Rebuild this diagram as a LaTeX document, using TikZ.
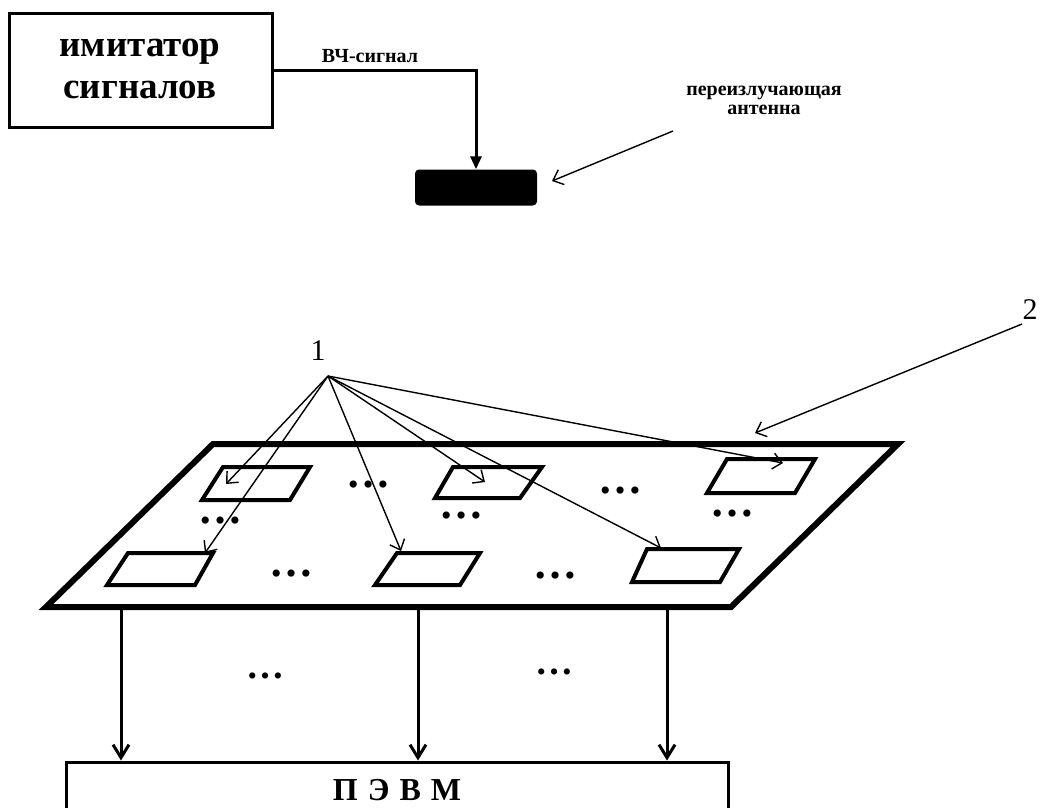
\documentclass[tikz,border=0pt]{standalone}
\usepackage{fontspec}
\setmainfont{Liberation Serif}
\usetikzlibrary{arrows.meta}
\begin{document}
\begin{tikzpicture}[x=1pt,y=-1pt,
  box/.style={draw,line width=3pt,inner sep=0pt},
  thinarrow/.style={line width=1.4pt,-{Straight Barb[length=9pt,width=16pt,line width=1.4pt]}},
  downarrow/.style={line width=3pt,-{Straight Barb[length=13pt,width=16pt,line width=3pt]}},
  feed/.style={line width=3pt,-{Triangle[length=13pt,width=11pt]}},
  plate/.style={line width=6pt,line join=miter},
  pad/.style={line width=4pt,line join=miter},
  dts/.style={font=\fontsize{44}{44}\selectfont\bfseries,inner sep=0pt},
  lbl/.style={font=\fontsize{20}{19}\selectfont\bfseries,inner sep=0pt,align=center},
  num/.style={font=\fontsize{30}{30}\selectfont,inner sep=0pt}]
\useasboundingbox (0,0) rectangle (1040,807);
% simulator
\node[box,minimum width=263pt,minimum height=114pt] (imit) at (140.5,70) {};
\node[align=center,inner sep=0pt,font=\fontsize{37}{42}\selectfont\bfseries] (imittxt) at (140,69) {имитатор\\сигналов};
\node[fill,rounded corners=4pt,minimum width=122pt,minimum height=36pt,inner sep=0pt] (ant) at (476,187.5) {};
\draw[feed] (imit.east) -| (ant.north);
\node[lbl] (hf) at (370,56) {ВЧ-сигнал};
\node[lbl] (antlbl) at (764,100) {переизлучающая\\антенна};
\coordinate (antfrom) at (673,131);
\coordinate (antto) at (552,181);
\draw[thinarrow] (antfrom) -- (antto);
% plate
\coordinate (p1) at (213,444);
\coordinate (p2) at (898,444);
\coordinate (p3) at (731,607);
\coordinate (p4) at (46,607);
\draw[plate] (p1) -- (p2) -- (p3) -- (p4) -- cycle;
% pads
\draw[pad] (223,467) -- (310,467) -- (290,500) -- (202,500) -- cycle;
\draw[pad] (453,467) -- (542,467) -- (520,498) -- (435,498) -- cycle;
\draw[pad] (727,459) -- (815,459) -- (795,493) -- (707,493) -- cycle;
\draw[pad] (128,553) -- (213,553) -- (195,585) -- (107,585) -- cycle;
\draw[pad] (397,553) -- (480,553) -- (460,585) -- (375,585) -- cycle;
\draw[pad] (647,549) -- (739,549) -- (720,582) -- (632,582) -- cycle;
% dots on plate
\node[dts] (d1) at (368,485) {…};
\node[dts] (d2) at (620,491) {…};
\node[dts] (d3) at (220,521) {…};
\node[dts] (d4) at (461,516) {…};
\node[dts] (d5) at (732,514) {…};
\node[dts] (d6) at (291,574) {…};
\node[dts] (d7) at (555,576) {…};
% label 1 and arrows
\node[num] (one) at (318,351) {1};
\coordinate (src) at (328,376);
\coordinate (tA) at (226,484);
\coordinate (tD) at (205,553);
\coordinate (tE) at (401,551);
\coordinate (tB) at (485,482);
\coordinate (tF) at (661,548);
\coordinate (tC) at (783,463);
\foreach \t in {tA,tD,tE,tB,tF,tC} \draw[thinarrow] (src) -- (\t);
% label 2
\node[num] (two) at (1030,310) {2};
\coordinate (twofrom) at (1022,324);
\coordinate (twoto) at (755,433);
\draw[thinarrow] (twofrom) -- (twoto);
% computer
\node[box,minimum width=662pt,minimum height=90pt] (pc) at (397,807) {};
\node[font=\fontsize{32}{32}\selectfont\bfseries,inner sep=0pt] (pclbl) at (397,790) {П\hspace{10pt}Э\hspace{10pt}В\hspace{10pt}М};
\coordinate (o1) at (121,607);
\coordinate (o2) at (418,607);
\coordinate (o3) at (667,607);
\draw[downarrow] (o1) -- (o1 |- pc.north);
\draw[downarrow] (o2) -- (o2 |- pc.north);
\draw[downarrow] (o3) -- (o3 |- pc.north);
\node[dts,font=\fontsize{38}{38}\selectfont\bfseries] (d8) at (265,676) {…};
\node[dts,font=\fontsize{38}{38}\selectfont\bfseries] (d9) at (554,672) {…};
\end{tikzpicture}
\end{document}
